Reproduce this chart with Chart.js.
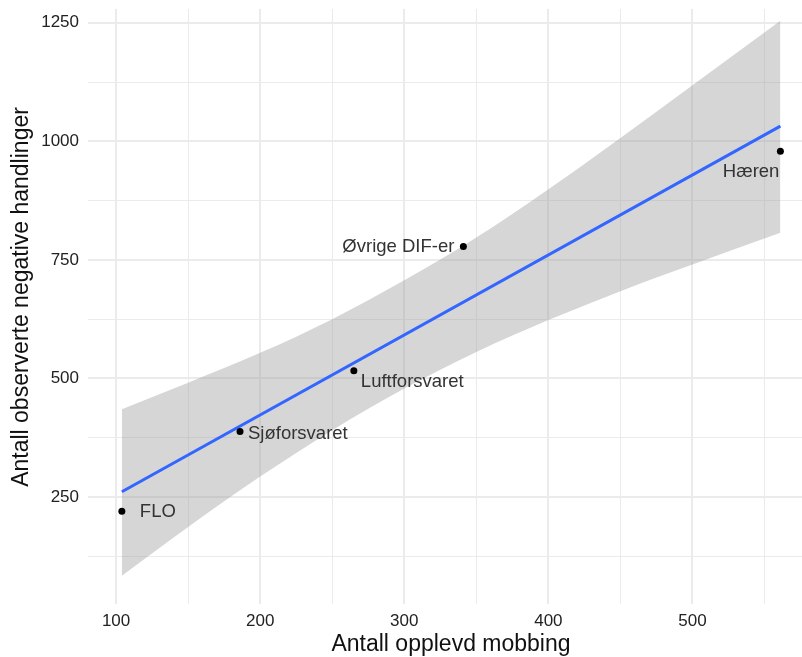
<!DOCTYPE html>
<html>
<head>
<meta charset="utf-8">
<script src="https://cdn.jsdelivr.net/npm/chart.js@4.4.1/dist/chart.umd.min.js"></script>
<style>
  html, body { margin: 0; padding: 0; background: #fff; overflow: hidden; }
  #chart { display: block; }
</style>
</head>
<body>
<canvas id="chart" width="802" height="657"></canvas>
<script>
// Observed points
const units = ['FLO', 'Sjøforsvaret', 'Luftforsvaret', 'Øvrige DIF-er', 'Hæren'];
const mobbing = [104, 186, 265, 341, 561];
const handlinger = [220, 388, 516, 778, 979];

// Fitted line (ends) and confidence band
const fitX = [104, 561];
const fitY = [261, 1032];
const bandX = [104, 150, 200, 250, 300, 350, 400, 450, 500, 561];
const bandUpper = [435, 491, 554, 625, 707, 797, 899, 1007, 1118, 1254];
const bandLower = [84, 187, 293, 391, 479, 556, 623, 684, 740, 807];

// Axis ticks (minor ones carry no label)
const xTicks = [100, 150, 200, 250, 300, 350, 400, 450, 500, 550];
const xLabels = [100, 200, 300, 400, 500];
const yTicks = [125, 250, 375, 500, 625, 750, 875, 1000, 1125, 1250];
const yLabels = [250, 500, 750, 1000, 1250];

const xTitle = 'Antall opplevd mobbing';
const yTitle = 'Antall observerte negative handlinger';

// label placement relative to each point (px)
const labelPos = [
  { dx: 18, dy: 1, align: 'left' },
  { dx: 8, dy: 2, align: 'left' },
  { dx: 7, dy: 11, align: 'left' },
  { dx: -9, dy: 0, align: 'right' },
  { dx: -1, dy: 21, align: 'right' }
];

const FONT = "'Liberation Sans', Arial, sans-serif";
const GRID = '#ebebeb';

const toXY = (xs, ys) => xs.map((x, i) => ({ x, y: ys[i] }));

const pointLabels = {
  id: 'pointLabels',
  afterDatasetsDraw(chart) {
    const ctx = chart.ctx;
    const meta = chart.getDatasetMeta(0);
    ctx.save();
    ctx.font = '18.5px ' + FONT;
    ctx.fillStyle = '#333';
    ctx.textBaseline = 'middle';
    meta.data.forEach((pt, i) => {
      const p = labelPos[i];
      ctx.textAlign = p.align;
      ctx.fillText(units[i], pt.x + p.dx, pt.y + p.dy);
    });
    ctx.restore();
  }
};

// axis titles, placed like the ggplot original (plot was cropped on the right/top)
const axisTitles = {
  id: 'axisTitles',
  afterDraw(chart) {
    const ctx = chart.ctx;
    ctx.save();
    ctx.font = '23px ' + FONT;
    ctx.fillStyle = '#111';
    ctx.textAlign = 'center';
    ctx.textBaseline = 'middle';
    ctx.fillText(xTitle, 451, 645);
    ctx.translate(22, 297);
    ctx.rotate(-Math.PI / 2);
    ctx.fillText(yTitle, 0, 0);
    ctx.restore();
  }
};

new Chart(document.getElementById('chart'), {
  type: 'scatter',
  data: {
    datasets: [
      {
        label: 'points',
        data: toXY(mobbing, handlinger),
        backgroundColor: '#000',
        borderColor: '#000',
        pointRadius: 3.5,
        borderWidth: 0
      },
      {
        label: 'fit',
        data: toXY(fitX, fitY),
        showLine: true,
        borderColor: '#3366FF',
        borderWidth: 3,
        pointRadius: 0
      },
      {
        label: 'upper',
        data: toXY(bandX, bandUpper),
        showLine: true,
        borderWidth: 0,
        borderColor: 'rgba(0,0,0,0)',
        pointRadius: 0,
        cubicInterpolationMode: 'monotone',
        fill: '+1',
        backgroundColor: 'rgba(153,153,153,0.4)'
      },
      {
        label: 'lower',
        data: toXY(bandX, bandLower),
        showLine: true,
        borderWidth: 0,
        borderColor: 'rgba(0,0,0,0)',
        pointRadius: 0,
        cubicInterpolationMode: 'monotone',
        fill: false
      }
    ]
  },
  options: {
    responsive: false,
    animation: false,
    layout: { autoPadding: false, padding: { top: 9, right: 0, left: 0, bottom: 0 } },
    plugins: {
      legend: { display: false },
      tooltip: { enabled: false }
    },
    scales: {
      x: {
        type: 'linear',
        min: 80.5,
        max: 576,
        afterBuildTicks: s => { s.ticks = xTicks.map(v => ({ value: v })); },
        afterFit: s => {
          s.height = 53;
          s.paddingLeft = 0;
          s.paddingRight = 0;
        },
        border: { display: false },
        grid: {
          color: GRID,
          drawTicks: false,
          lineWidth: c => (xLabels.includes(c.tick && c.tick.value) ? 2 : 1)
        },
        ticks: {
          padding: 7,
          color: '#222',
          font: { family: FONT, size: 17 },
          maxRotation: 0,
          autoSkip: false,
          callback: v => (xLabels.includes(v) ? String(v) : '')
        }
      },
      y: {
        type: 'linear',
        min: 24.4,
        max: 1279,
        afterBuildTicks: s => { s.ticks = yTicks.map(v => ({ value: v })); },
        afterFit: s => {
          s.width = 88;
          s.paddingTop = 0;
          s.paddingBottom = 0;
        },
        border: { display: false },
        grid: {
          color: GRID,
          drawTicks: false,
          lineWidth: c => (yLabels.includes(c.tick && c.tick.value) ? 2 : 1)
        },
        ticks: {
          padding: 9,
          color: '#222',
          font: { family: FONT, size: 17 },
          autoSkip: false,
          callback: v => (yLabels.includes(v) ? String(v) : '')
        }
      }
    }
  },
  plugins: [pointLabels, axisTitles]
});
</script>
</body>
</html>
